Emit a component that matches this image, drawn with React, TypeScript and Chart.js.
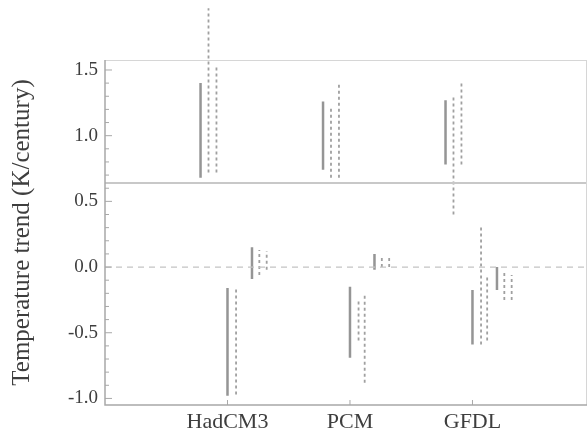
import React, { useEffect, useRef } from "react";
import { Chart, registerables } from "chart.js";

Chart.register(...registerables);

// ---------- data ----------
const categories = ["HadCM3", "PCM", "GFDL"];

// Positive-trend group: [low, high] per model (K/century)
const upperSolid: ([number, number] | null)[] = [[0.68, 1.40], [0.74, 1.26], [0.78, 1.27]];
const upperDashA: ([number, number] | null)[] = [[0.72, 1.97], [0.68, 1.21], [0.40, 1.31]];
const upperDashB: ([number, number] | null)[] = [[0.72, 1.52], [0.68, 1.40], [0.78, 1.41]];

// Negative-trend group
const lowerSolid: ([number, number] | null)[] = [[-0.98, -0.16], [-0.69, -0.15], [-0.59, -0.175]];
const lowerDashA: ([number, number] | null)[] = [[-0.97, -0.17], [-0.56, -0.25], [-0.59, 0.32]];
const lowerDashB: ([number, number] | null)[] = [null, [-0.88, -0.21], [-0.56, -0.08]];

// Near-zero group
const nearSolid: ([number, number] | null)[] = [[-0.09, 0.15], [-0.02, 0.10], [-0.175, 0.0]];
const nearDashA: ([number, number] | null)[] = [[-0.06, 0.13], [0.0, 0.08], [-0.25, -0.04]];
const nearDashB: ([number, number] | null)[] = [[-0.02, 0.12], [0.0, 0.08], [-0.25, -0.06]];

const referenceLevel = 0.64;
const zeroLevel = 0.0;

const yMajorTicks = [-1.0, -0.5, 0.0, 0.5, 1.0, 1.5];
const yTitle = "Temperature trend (K/century)";

// ---------- layout / style constants ----------
const X_MIN = 0;
const X_MAX = 3.935;
const Y_MIN = -1.05;
const Y_MAX = 1.576;
const SERIF = "'Liberation Serif', 'Times New Roman', serif";
const TEXT = "#3e3e3e";

type Range = [number, number] | null;

function rangePoints(ranges: Range[], offset: number) {
  const pts: { x: number; y: number | null }[] = [];
  ranges.forEach((r, i) => {
    if (!r) return;
    const x = i + 1 + offset;
    pts.push({ x, y: r[0] }, { x, y: r[1] }, { x, y: null });
  });
  return pts;
}

function barDataset(ranges: Range[], offset: number, solid: boolean) {
  return {
    data: rangePoints(ranges, offset),
    borderColor: solid ? "#959595" : "#a0a0a0",
    borderWidth: solid ? 2.5 : 1.8,
    borderDash: solid ? [] : [3, 3],
    pointRadius: 0,
    spanGaps: false,
    clip: false as const,
    tension: 0,
  };
}

const framePlugin = {
  id: "frame",
  afterDraw(chart: any) {
    const { ctx, chartArea } = chart;
    const { left, right, top, bottom } = chartArea;
    const y = chart.scales.y;
    const x = chart.scales.x;
    ctx.save();
    ctx.strokeStyle = "#d6d6d6";
    ctx.lineWidth = 1;
    ctx.beginPath();
    ctx.moveTo(left, top + 0.5);
    ctx.lineTo(right, top + 0.5);
    ctx.moveTo(right - 0.5, top);
    ctx.lineTo(right - 0.5, bottom);
    ctx.stroke();
    ctx.strokeStyle = "#a8a8a8";
    ctx.lineWidth = 1.5;
    ctx.beginPath();
    ctx.moveTo(left, top);
    ctx.lineTo(left, bottom);
    ctx.lineTo(right, bottom);
    ctx.stroke();
    ctx.lineWidth = 1;
    ctx.beginPath();
    y.ticks.forEach((t: any) => {
      const py = y.getPixelForValue(t.value);
      const major = yMajorTicks.some((m) => Math.abs(m - t.value) < 1e-6);
      ctx.moveTo(left, py);
      ctx.lineTo(left + (major ? 7 : 4), py);
    });
    x.ticks.forEach((t: any) => {
      const px = x.getPixelForValue(t.value);
      ctx.moveTo(px, bottom);
      ctx.lineTo(px, bottom - 5);
    });
    ctx.stroke();
    ctx.restore();
  },
};

export default function App() {
  const ref = useRef<HTMLCanvasElement | null>(null);

  useEffect(() => {
    if (!ref.current) return;
    const upperOff = [-0.22, -0.155, -0.09];
    const lowerOff = [0.0, 0.07, 0.12];
    const nearOff = [0.2, 0.26, 0.32];

    const chart = new Chart(ref.current, {
      type: "line",
      data: {
        datasets: [
          {
            data: [
              { x: X_MIN, y: referenceLevel },
              { x: X_MAX, y: referenceLevel },
            ],
            borderColor: "#c8c8c8",
            borderWidth: 2,
            pointRadius: 0,
          },
          {
            data: [
              { x: X_MIN, y: zeroLevel },
              { x: X_MAX, y: zeroLevel },
            ],
            borderColor: "#c4c4c4",
            borderWidth: 1.3,
            borderDash: [6, 5],
            pointRadius: 0,
          },
          barDataset(upperSolid, upperOff[0], true),
          barDataset(upperDashA, upperOff[1], false),
          barDataset(upperDashB, upperOff[2], false),
          barDataset(lowerSolid, lowerOff[0], true),
          barDataset(lowerDashA, lowerOff[1], false),
          barDataset(lowerDashB, lowerOff[2], false),
          barDataset(nearSolid, nearOff[0], true),
          barDataset(nearDashA, nearOff[1], false),
          barDataset(nearDashB, nearOff[2], false),
        ] as any,
      },
      options: {
        animation: false,
        responsive: false,
        layout: { padding: { top: 60, right: 1, left: 0, bottom: 0 } },
        plugins: { legend: { display: false }, tooltip: { enabled: false } },
        scales: {
          x: {
            type: "linear",
            min: X_MIN,
            max: X_MAX,
            grid: { display: false, drawTicks: false },
            border: { display: false },
            afterBuildTicks: (scale: any) => {
              scale.ticks = categories.map((_, i) => ({ value: i + 1 }));
            },
            afterFit: (scale: any) => {
              scale.height = 32;
            },
            ticks: {
              autoSkip: false,
              maxRotation: 0,
              padding: 4,
              color: TEXT,
              font: { family: SERIF, size: 22 },
              callback: (v: any) => categories[Math.round(Number(v)) - 1] ?? "",
            },
          },
          y: {
            type: "linear",
            min: Y_MIN,
            max: Y_MAX,
            grid: { display: false, drawTicks: false },
            border: { display: false },
            afterBuildTicks: (scale: any) => {
              const t: { value: number }[] = [];
              for (let k = -10; k <= 15; k++) t.push({ value: k / 10 });
              scale.ticks = t;
            },
            afterFit: (scale: any) => {
              scale.width = 105;
            },
            title: {
              display: true,
              text: yTitle,
              color: TEXT,
              font: { family: SERIF, size: 25 },
              padding: { top: 7, bottom: 0 },
            },
            ticks: {
              autoSkip: false,
              padding: 7,
              color: TEXT,
              font: { family: SERIF, size: 19 },
              callback: (v: any) => {
                const n = Number(v);
                return yMajorTicks.some((m) => Math.abs(m - n) < 1e-6) ? n.toFixed(1) : "";
              },
            },
          },
        },
      },
      plugins: [framePlugin],
    });
    return () => chart.destroy();
  }, []);

  return (
    <div style={{ position: "absolute", left: 0, top: 0, width: 588, height: 437, background: "#fff" }}>
      <canvas ref={ref} width={588} height={437} />
    </div>
  );
}
